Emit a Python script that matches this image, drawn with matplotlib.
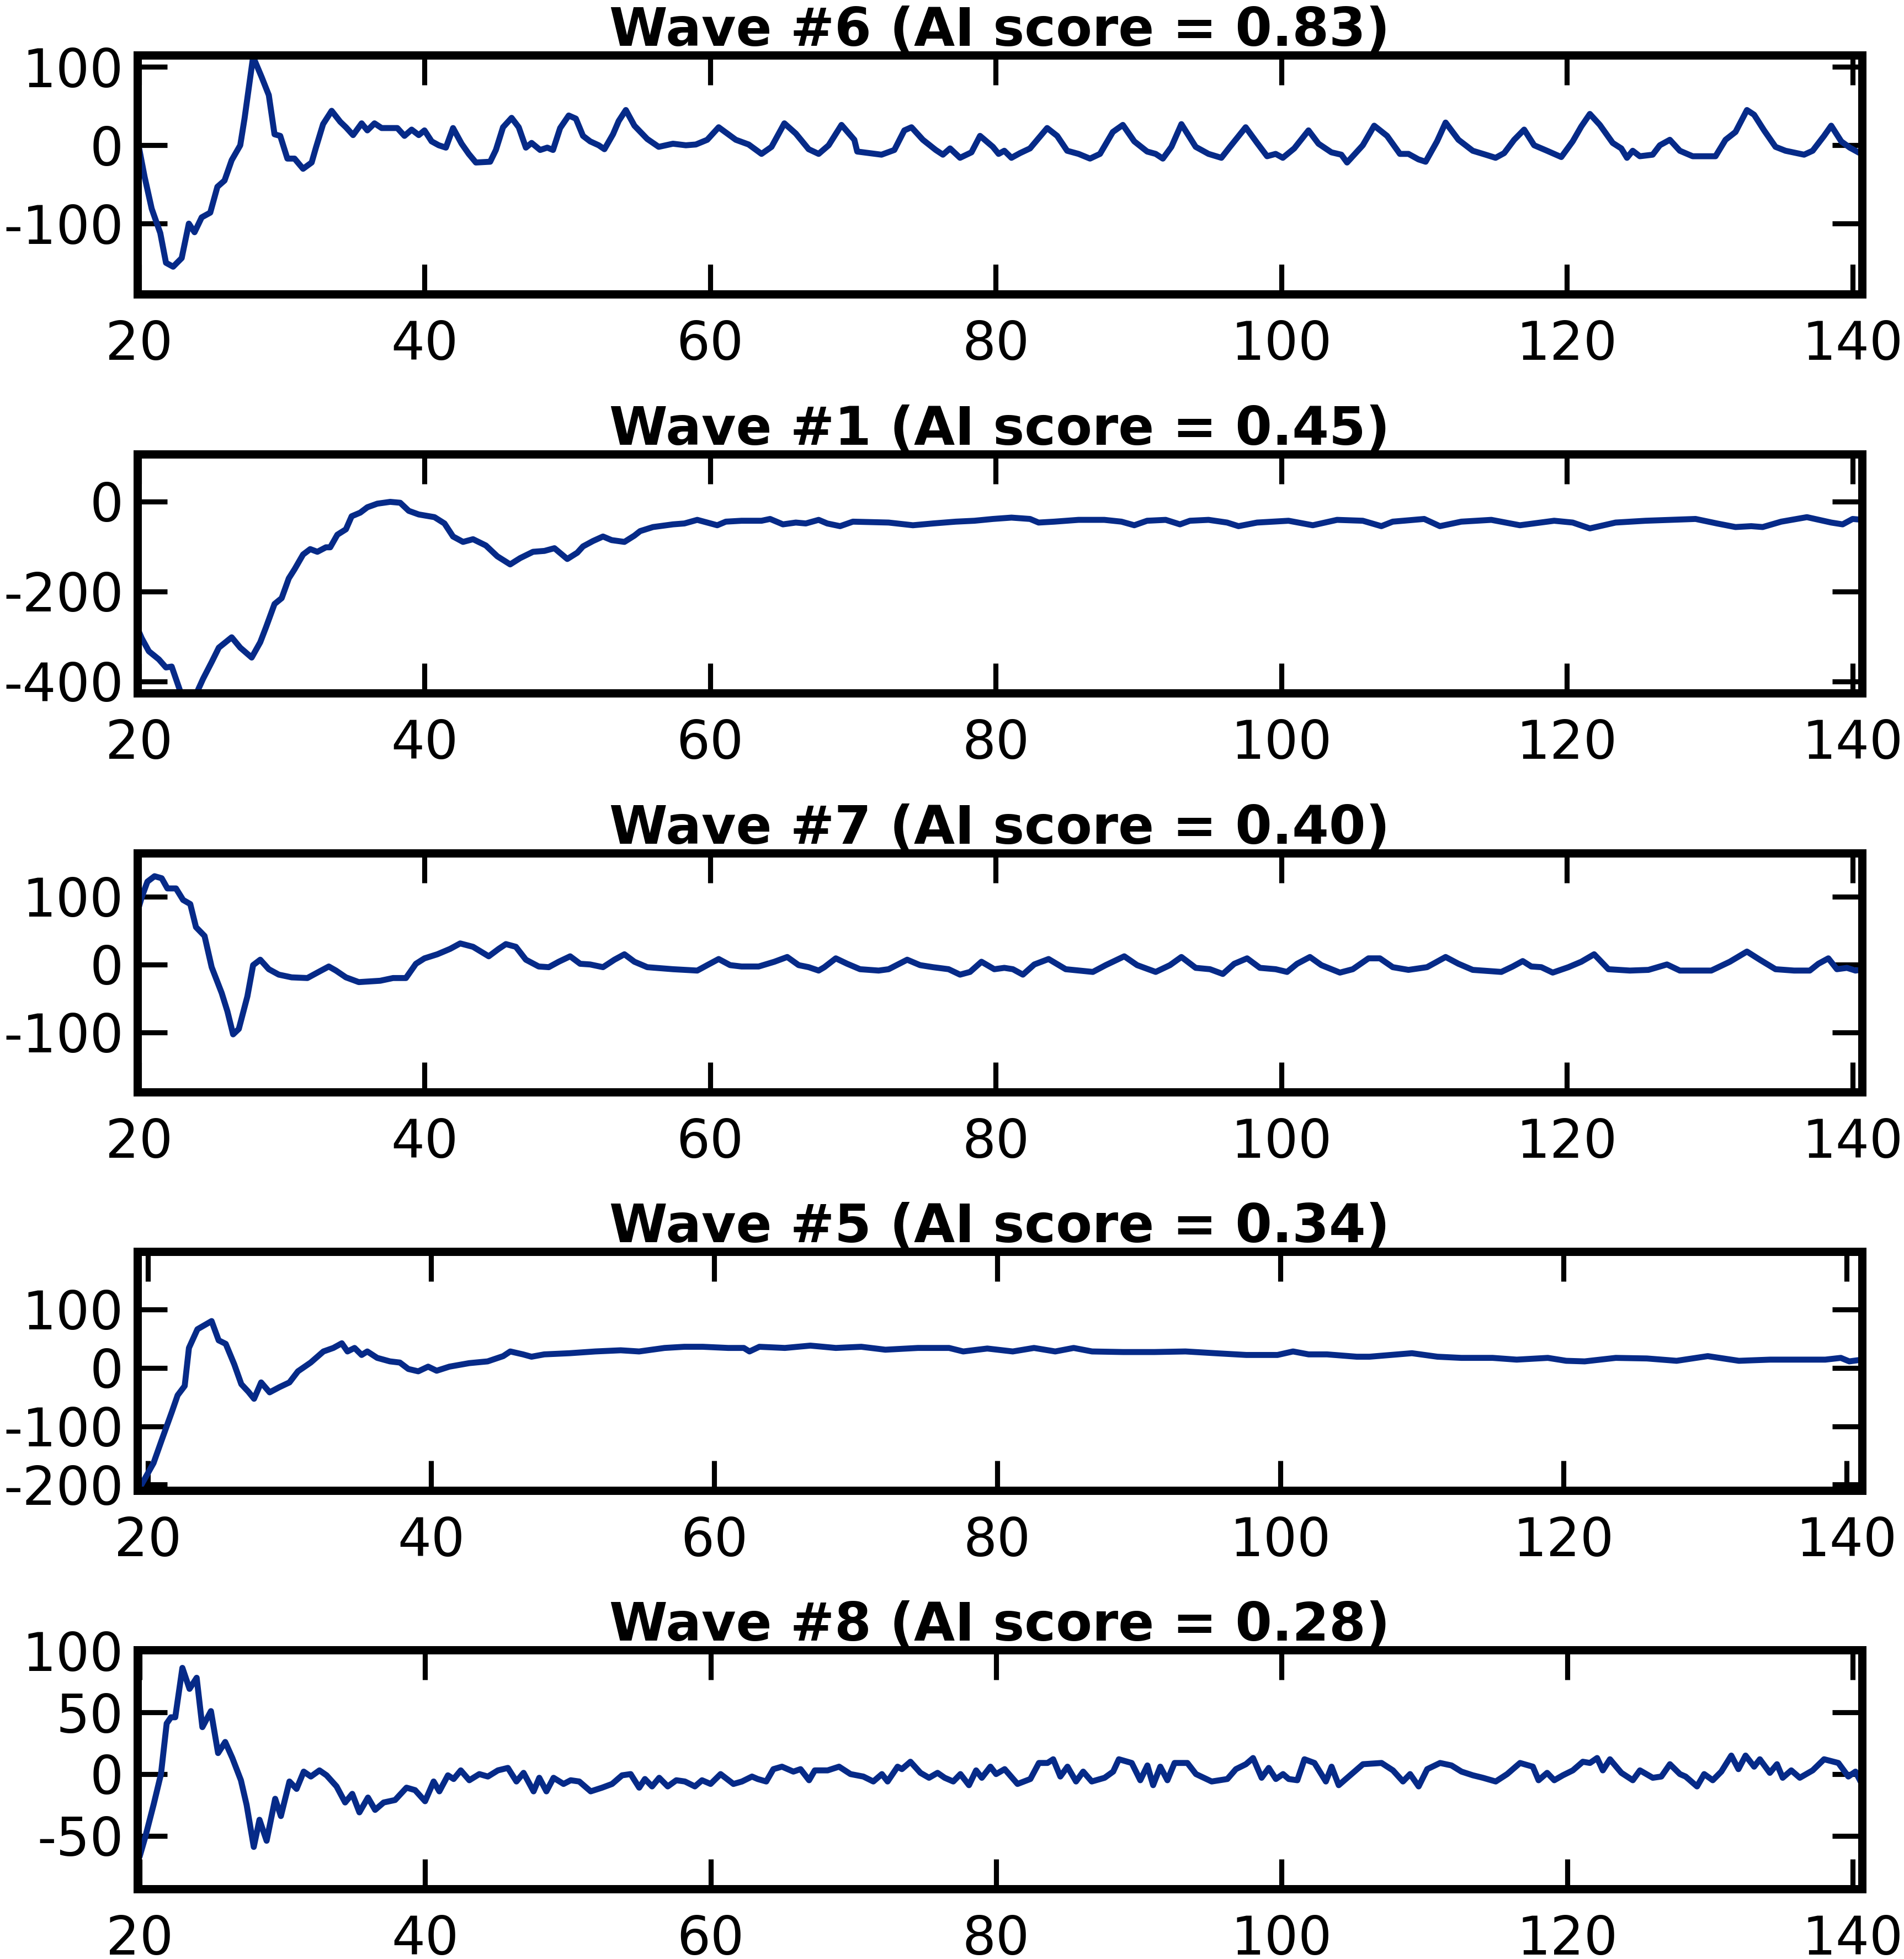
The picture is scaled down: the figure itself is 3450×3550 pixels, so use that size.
import matplotlib
matplotlib.use("Agg")
import matplotlib.pyplot as plt

plt.rcParams['font.family'] = ['DejaVu Sans']
plt.rcParams['axes.unicode_minus'] = False

titles = ["Wave #6 (AI score = 0.83)", "Wave #1 (AI score = 0.45)",
          "Wave #7 (AI score = 0.40)", "Wave #5 (AI score = 0.34)",
          "Wave #8 (AI score = 0.28)"]

x_ticks = [20, 40, 60, 80, 100, 120, 140]

wave6 = [(19.8,17),(20.4,-40),(20.9,-81),(21.5,-112),(21.9,-150),(22.4,-155),(23.0,-144),(23.5,-100),
         (23.9,-111),(24.4,-92),(25.0,-86),(25.5,-53),(26.0,-45),(26.5,-19),(27.1,0),(27.4,34),(28.0,113),
         (28.6,87),(29.1,64),(29.5,14),(29.9,12),(30.4,-17),(30.9,-17),(31.5,-30),(32.1,-22),(32.4,-3),
         (32.9,27),(33.5,44),(34.1,30),(34.5,23),(35.0,13),(35.6,28),(36.0,19),(36.5,28),(37.0,22),(38.1,22),
         (38.6,12),(39.1,20),(39.6,13),(40.0,19),(40.5,5),(41.0,0),(41.5,-3),(42.0,22),(42.6,2),(43.1,-11),
         (43.6,-22),(44.6,-21),(45.0,-6),(45.5,23),(46.1,35),(46.6,23),(47.1,-3),(47.5,3),(48.1,-6),(48.6,-3),
         (49.0,-6),(49.5,22),(50.1,38),(50.6,34),(51.1,12),(51.6,5),(52.2,0),(52.6,-5),(53.2,14),(53.6,31),
         (54.1,45),(54.7,25),(55.6,8),(56.4,-2),(57.4,2),(58.3,0),(59.0,1),(59.8,7),(60.6,23),(61.8,7),
         (62.7,1),(63.6,-11),(64.3,-2),(65.2,28),(66.0,15),(66.9,-5),(67.6,-11),(68.3,0),(69.2,26),(70.1,7),
         (70.3,-8),(72.0,-12),(72.9,-6),(73.6,19),(74.1,23),(74.9,7),(75.8,-6),(76.3,-12),(76.8,-4),(77.5,-16),
         (78.3,-9),(78.9,12),(79.8,-2),(80.2,-11),(80.6,-7),(81.1,-16),(81.7,-10),(82.4,-4),(83.6,22),(84.3,12),
         (85.0,-7),(85.8,-11),(86.6,-17),(87.3,-11),(88.2,17),(88.9,26),(89.7,5),(90.6,-8),(91.2,-11),(91.7,-17),
         (92.3,-2),(93.0,27),(94.0,-2),(94.9,-11),(95.8,-16),(96.4,-2),(97.5,23),(98.3,3),(99.0,-14),(99.6,-11),
         (100.1,-16),(100.9,-4),(101.9,19),(102.6,2),(103.5,-9),(104.2,-12),(104.6,-22),(105.7,0),(106.5,25),
         (107.4,12),(108.3,-11),(108.9,-11),(109.6,-18),(110.1,-21),(110.9,5),(111.5,29),(112.4,7),(113.4,-7),
         (114.3,-12),(115.0,-16),(115.6,-10),(116.3,7),(117.0,20),(117.7,0),(118.6,-7),(119.6,-15),(120.4,5),
         (121.0,24),(121.6,40),(122.3,26),(123.2,3),(123.8,-4),(124.2,-16),(124.6,-7),(125.1,-14),(126.0,-12),
         (126.5,0),(127.2,7),(127.9,-7),(128.8,-14),(130.4,-14),(131.1,7),(131.8,17),(132.6,45),(133.1,39),
         (133.8,19),(134.6,-2),(135.3,-7),(136.6,-12),(137.2,-7),(138.0,12),(138.5,25),(139.2,5),(139.8,-3),
         (140.5,-10),(140.9,-12)]

wave1 = [(19.9,-282),(20.2,-304),(20.7,-333),(21.4,-351),(21.9,-369),(22.3,-367),(22.9,-422),(23.5,-450),
         (24.1,-422),(24.5,-394),(25.1,-357),(25.6,-325),(26.5,-302),(27.1,-325),(27.9,-347),(28.5,-313),
         (28.9,-280),(29.5,-228),(30.0,-215),(30.5,-171),(30.9,-151),(31.5,-118),(32.0,-106),(32.5,-112),
         (33.1,-102),(33.4,-102),(33.9,-74),(34.5,-62),(34.9,-33),(35.5,-25),(36.0,-13),(36.7,-5),(37.6,-1),
         (38.3,-3),(38.9,-21),(39.6,-29),(40.7,-35),(41.4,-49),(42.0,-78),(42.7,-90),(43.4,-84),(44.3,-98),
         (45.1,-122),(46.0,-140),(46.7,-126),(47.6,-112),(48.4,-110),(49.1,-104),(50.0,-128),(50.7,-114),
         (51.1,-100),(51.8,-88),(52.5,-78),(53.1,-86),(54.0,-90),(54.7,-76),(55.1,-66),(56.0,-57),(57.4,-51),
         (58.2,-49),(59.1,-41),(59.8,-47),(60.5,-53),(61.1,-45),(62.2,-43),(63.6,-43),(64.2,-39),(65.1,-51),
         (66.0,-47),(66.7,-49),(67.6,-41),(68.2,-49),(69.1,-55),(70.0,-45),(72.5,-47),(74.2,-53),(75.6,-49),
         (77.2,-45),(78.5,-43),(79.8,-39),(81.1,-36),(82.4,-39),(83.0,-47),(84.1,-45),(85.8,-41),(87.6,-41),
         (88.8,-45),(89.7,-53),(90.6,-43),(91.9,-41),(92.9,-51),(93.6,-43),(94.9,-41),(96.2,-47),(97.0,-55),
         (98.3,-47),(100.5,-43),(102.2,-53),(103.9,-41),(105.7,-43),(107.0,-55),(107.8,-45),(110.0,-39),
         (111.1,-55),(112.6,-45),(114.7,-41),(116.7,-53),(119.1,-43),(120.4,-47),(121.6,-60),(123.4,-47),
         (125.5,-43),(129.0,-39),(130.5,-49),(131.8,-57),(132.9,-55),(133.7,-57),(135.0,-45),(136.8,-35),
         (138.5,-47),(139.3,-51),(140.0,-39),(140.7,-41)]

wave7 = [(19.8,70),(20.2,99),(20.6,122),(21.1,130),(21.6,127),(22.0,112),(22.6,112),(23.1,95),(23.6,89),
         (24.0,55),(24.6,42),(25.1,-4),(25.8,-42),(26.2,-69),(26.6,-103),(27.0,-95),(27.6,-47),(28.0,-1),
         (28.5,7),(29.1,-7),(29.8,-15),(30.7,-19),(31.8,-20),(32.5,-12),(33.3,-3),(33.8,-9),(34.5,-19),
         (35.4,-26),(36.9,-24),(37.8,-20),(38.7,-20),(39.4,1),(40.0,9),(40.9,15),(41.8,23),(42.5,31),(43.4,26),
         (44.5,12),(45.2,23),(45.7,30),(46.4,26),(47.1,7),(48.0,-3),(48.7,-4),(49.4,4),(50.2,12),(50.9,1),
         (51.6,0),(52.5,-4),(53.3,7),(54.0,15),(54.7,4),(55.6,-4),(57.4,-7),(59.1,-9),(59.8,-1),(60.6,8),
         (61.4,-1),(62.2,-3),(63.4,-3),(64.5,4),(65.4,11),(66.2,-1),(66.9,-4),(67.6,-9),(68.0,-4),(68.8,9),
         (69.6,1),(70.5,-7),(71.8,-9),(72.5,-7),(73.8,7),(74.7,-1),(75.6,-4),(76.7,-7),(77.5,-15),(78.2,-11),
         (79.0,4),(79.9,-7),(80.6,-5),(81.2,-7),(81.9,-15),(82.7,0),(83.7,8),(84.9,-7),(86.8,-11),(87.7,-1),
         (89.0,12),(89.9,-1),(91.2,-11),(92.2,-1),(93.0,11),(94.0,-5),(95.0,-7),(95.9,-14),(96.7,1),(97.6,9),
         (98.5,-5),(99.6,-7),(100.4,-11),(101.1,1),(102.0,11),(102.8,-1),(104.1,-12),(105.0,-7),(106.1,9),
         (106.9,9),(107.8,-4),(108.9,-8),(110.2,-4),(111.5,11),(112.4,1),(113.4,-8),(115.4,-11),(116.2,-3),
         (116.9,5),(117.5,-3),(118.2,-4),(119.0,-12),(120.1,-4),(121.0,4),(121.9,15),(122.9,-7),(124.4,-9),
         (125.7,-8),(127.0,0),(127.9,-9),(130.1,-9),(131.4,4),(132.6,19),(133.5,7),(134.6,-7),(135.9,-9),
         (137.0,-9),(137.6,1),(138.3,9),(138.9,-7),(139.6,-5),(140.2,-9),(140.9,-7)]

wave5 = [(19.2,-215),(20.4,-163),(21.0,-122),(21.7,-75),(22.1,-47),(22.6,-31),(22.9,34),(23.5,66),(24.0,73),
         (24.5,80),(25.0,47),(25.5,41),(26.1,6),(26.6,-28),(27.1,-41),(27.5,-53),(28.0,-25),(28.6,-42),
         (29.3,-33),(30.0,-25),(30.6,-6),(31.5,9),(32.4,28),(33.1,34),(33.7,42),(34.1,28),(34.6,34),(35.1,22),
         (35.5,28),(36.2,17),(37.1,11),(37.8,9),(38.4,-2),(39.1,-6),(39.8,2),(40.4,-5),(41.3,2),(42.7,8),
         (44.0,11),(45.1,20),(45.6,28),(46.5,23),(47.1,19),(48.0,23),(49.8,25),(51.6,28),(53.4,30),(54.7,28),
         (56.5,34),(57.9,36),(59.2,36),(61.0,34),(62.1,34),(62.5,28),(63.2,36),(65.0,34),(66.8,38),(68.6,34),
         (70.4,36),(72.1,31),(74.4,34),(76.6,34),(77.6,28),(79.3,33),(81.1,28),(82.6,34),(84.1,28),(85.4,34),
         (86.7,28),(88.9,27),(91.1,27),(93.3,28),(95.4,25),(97.6,22),(99.8,22),(100.9,28),(102.0,23),(103.3,23),
         (105.4,19),(106.3,19),(109.3,25),(111.1,19),(112.8,17),(115.0,17),(116.7,14),(118.9,17),(120.2,12),
         (121.5,11),(123.7,17),(125.9,16),(128.0,12),(130.2,20),(132.4,12),(134.6,14),(136.7,14),(138.5,14),
         (139.6,17),(140.2,11),(141.1,14)]

wave8 = [(19.6,-57),(20.0,-67),(20.4,-51),(21.0,-24),(21.5,0),(21.9,41),(22.2,46),(22.5,46),(23.0,86),
         (23.5,69),(24.0,78),(24.4,38),(25.0,51),(25.5,17),(26.0,26),(26.5,13),(27.1,-5),(27.5,-25),(28.0,-59),
         (28.4,-37),(28.9,-54),(29.5,-20),(29.9,-34),(30.5,-6),(31.0,-12),(31.5,2),(32.0,-2),(32.6,3),(33.1,-1),
         (33.8,-10),(34.4,-23),(34.9,-16),(35.4,-31),(36.0,-19),(36.5,-29),(37.1,-23),(37.9,-21),(38.7,-11),
         (39.3,-13),(40.0,-22),(40.6,-6),(41.0,-14),(41.6,-1),(42.0,-4),(42.5,3),(43.1,-5),(43.8,0),(44.4,-2),
         (45.1,3),(45.8,5),(46.4,-6),(46.9,1),(47.6,-14),(48.0,-3),(48.5,-14),(49.0,-3),(49.7,-8),(50.2,-5),
         (50.8,-6),(51.6,-14),(52.4,-11),(53.1,-8),(53.8,-1),(54.4,0),(55.0,-11),(55.4,-4),(55.9,-10),(56.4,-3),
         (57.0,-10),(57.6,-5),(58.2,-6),(58.9,-10),(59.4,-5),(60.0,-8),(60.7,0),(61.6,-8),(62.2,-6),(62.9,-2),
         (63.3,-4),(63.9,-6),(64.4,4),(65.0,6),(65.8,2),(66.3,4),(66.9,-5),(67.3,3),(68.2,3),(69.0,6),(69.8,0),
         (70.7,-2),(71.4,-6),(72.0,0),(72.4,-6),(73.1,6),(73.4,4),(74.0,10),(74.7,1),(75.3,-3),(75.9,1),
         (76.4,-3),(77.0,-6),(77.5,0),(78.1,-9),(78.6,3),(79.0,-3),(79.6,6),(80.0,0),(80.6,4),(81.5,-8),
         (82.4,-4),(83.0,9),(83.6,9),(84.0,12),(84.5,-2),(85.0,6),(85.6,-6),(86.1,2),(86.7,-6),(87.6,-3),
         (88.2,2),(88.6,12),(89.5,9),(90.1,-5),(90.6,7),(91.0,-9),(91.5,6),(92.0,-5),(92.5,9),(93.4,9),
         (94.0,0),(95.1,-6),(96.2,-4),(96.8,4),(97.5,8),(98.0,13),(98.6,-3),(99.1,5),(99.6,-4),(100.1,0),
         (100.5,-4),(101.1,-5),(101.6,12),(102.3,9),(103.1,-6),(103.5,6),(104.0,-9),(104.6,-3),(105.7,8),
         (107.0,9),(107.8,3),(108.5,-6),(109.0,0),(109.6,-10),(110.2,4),(111.1,9),(111.9,7),(112.6,2),
         (113.4,-1),(114.1,-3),(115.0,-6),(115.8,0),(116.7,9),(117.6,6),(118.0,-5),(118.6,1),(119.1,-5),
         (119.7,-1),(120.4,3),(121.1,10),(121.6,9),(122.1,13),(122.5,3),(123.0,12),(123.8,1),(124.6,-5),
         (125.1,3),(126.0,-3),(126.6,-2),(127.2,8),(127.9,0),(128.3,-2),(129.1,-10),(129.6,0),(130.2,-5),
         (130.8,2),(131.5,15),(132.0,4),(132.5,15),(133.1,6),(133.5,12),(134.2,1),(134.7,8),(135.1,-3),
         (135.7,3),(136.3,-3),(137.2,3),(138.0,12),(139.0,9),(139.7,-2),(140.2,2),(140.6,-7)]

waves = [wave6, wave1, wave7, wave5, wave8]
y_ticks = [[-100, 0, 100], [-400, -200, 0], [-100, 0, 100], [-200, -100, 0, 100], [-50, 0, 50, 100]]
y_lims = [(-190, 115), (-426, 105), (-188, 164), (-210, 199), (-93, 100.5)]
x_lims = [(19.9, 140.66), (19.9, 140.66), (19.9, 140.66), (19.26, 141.1), (19.85, 140.66)]

W, H = 3450, 3550
fig = plt.figure(figsize=(W / 300, H / 300), dpi=300)

line_color = "#062a88"
left_px, right_px = 249, 3374
tops_px = [100, 823, 1546, 2268, 2990]
height_px = 433

for i, (wave, title) in enumerate(zip(waves, titles)):
    top = tops_px[i]
    ax = fig.add_axes([left_px / W, 1 - (top + height_px) / H,
                       (right_px - left_px) / W, height_px / H])
    xs = [p[0] for p in wave]
    ys = [p[1] for p in wave]
    ax.plot(xs, ys, color=line_color, lw=2.6, solid_joinstyle='round')
    ax.set_xlim(*x_lims[i])
    ax.set_ylim(*y_lims[i])
    ax.set_xticks(x_ticks)
    ax.set_yticks(y_ticks[i])
    ax.tick_params(direction='in', length=13, width=2.2, labelsize=23,
                   top=True, right=True, pad=11)
    ax.tick_params(axis='y', pad=6)
    for s in ax.spines.values():
        s.set_linewidth(3.6)
    ax.set_title(title, fontsize=23, fontweight='bold', pad=4)

fig.savefig("out.png", dpi=300)
